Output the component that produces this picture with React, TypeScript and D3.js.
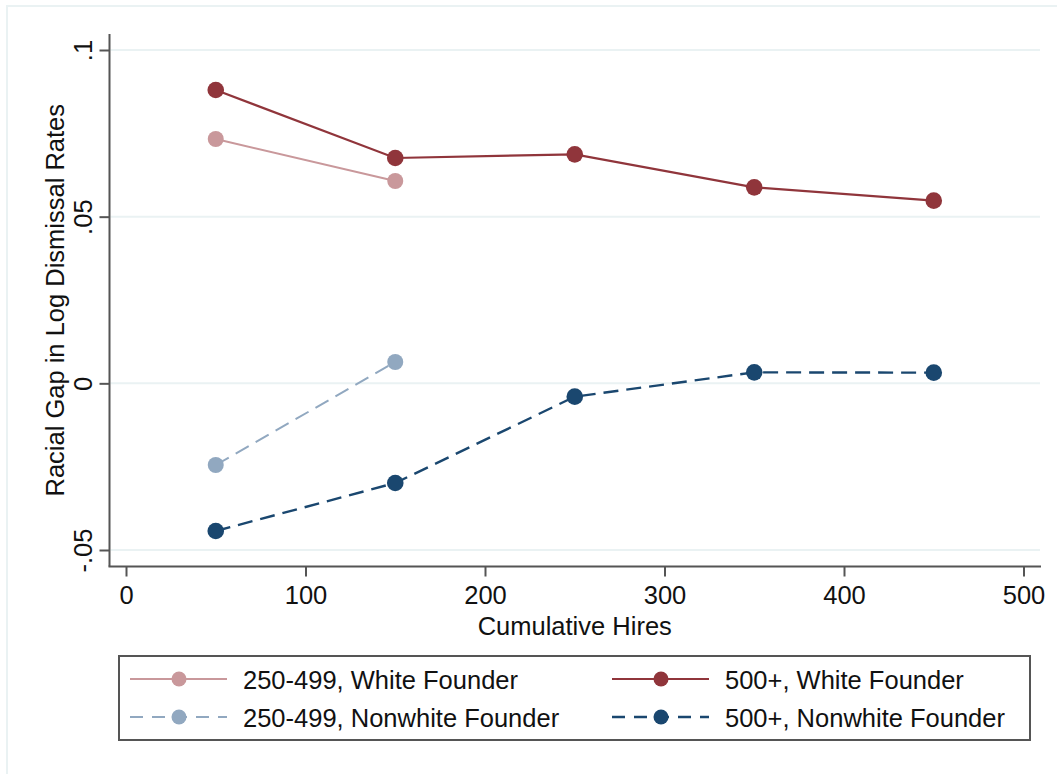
import React, { useEffect, useRef } from 'react';
import * as d3 from 'd3';

const hires = [50, 150, 250, 350, 450];
const white500 = [0.0880, 0.0676, 0.0687, 0.0588, 0.0548];
const white250 = [0.0733, 0.0607];
const nonwhite250 = [-0.0245, 0.0064];
const nonwhite500 = [-0.0443, -0.0299, -0.0040, 0.0033, 0.0032];

const xTicks = [0, 100, 200, 300, 400, 500];
const yTicks = [-0.05, 0, 0.05, 0.1];
const yTickLabels = ['-.05', '0', '.05', '.1'];

const seriesList = [
  { name: '250-499, White Founder', values: white250, color: '#c9989b', width: 2, dash: null, r: 8 },
  { name: '500+, White Founder', values: white500, color: '#90353b', width: 2.2, dash: null, r: 8.3 },
  { name: '250-499, Nonwhite Founder', values: nonwhite250, color: '#91a8c0', width: 2, dash: '15 8', r: 8 },
  { name: '500+, Nonwhite Founder', values: nonwhite500, color: '#1a476f', width: 2.4, dash: '15 8', r: 8.3 }
];

const FONT = '"Liberation Sans", Arial, sans-serif';
const FS = '25.5px';

export default function App() {
  const svgRef = useRef<SVGSVGElement>(null);

  useEffect(() => {
    const svg = d3.select(svgRef.current);
    svg.selectAll('*').remove();

    const x = d3.scaleLinear().domain([0, 500]).range([126, 1023.5]);
    const y = d3.scaleLinear().domain([-0.05, 0.1]).range([550, 50]);
    const left = 109.5;
    const right = 1040;
    const top = 34;
    const bottom = 566.5;

    // outer frame
    svg
      .append('rect')
      .attr('x', 7)
      .attr('y', 6)
      .attr('width', 1060)
      .attr('height', 780)
      .attr('fill', '#ffffff')
      .attr('stroke', '#eaf2f3')
      .attr('stroke-width', 2);

    // gridlines
    svg
      .append('g')
      .selectAll('line')
      .data(yTicks)
      .enter()
      .append('line')
      .attr('x1', left + 1)
      .attr('x2', right)
      .attr('y1', d => y(d))
      .attr('y2', d => y(d))
      .attr('stroke', '#eaf2f3')
      .attr('stroke-width', 2);

    // y axis
    const yAxis = svg
      .append('g')
      .attr('transform', `translate(${left},0)`)
      .call(
        d3
          .axisLeft(y)
          .tickValues(yTicks)
          .tickSize(10)
          .tickPadding(0)
          .tickFormat((d, i) => yTickLabels[i])
      );
    yAxis.select('.domain').attr('d', `M0,${top}V${bottom}`);
    yAxis.selectAll('.domain, .tick line').attr('stroke', '#555555').attr('stroke-width', 2);
    yAxis
      .selectAll('.tick text')
      .attr('x', 0)
      .attr('dy', null)
      .attr('transform', `translate(${92 - left},0) rotate(-90)`)
      .attr('text-anchor', 'middle')
      .attr('fill', '#111111')
      .style('font-family', FONT)
      .style('font-size', FS);

    // x axis
    const xAxis = svg
      .append('g')
      .attr('transform', `translate(0,${bottom})`)
      .call(d3.axisBottom(x).tickValues(xTicks).tickSize(10).tickFormat(d3.format('d')));
    xAxis.select('.domain').attr('d', `M${left - 1},0H${right + 1}`);
    xAxis.selectAll('.domain, .tick line').attr('stroke', '#555555').attr('stroke-width', 2);
    xAxis
      .selectAll('.tick text')
      .attr('y', 604 - bottom)
      .attr('dy', null)
      .attr('fill', '#111111')
      .style('font-family', FONT)
      .style('font-size', FS);

    // axis titles
    svg
      .append('text')
      .attr('x', (left + right) / 2)
      .attr('y', 635)
      .attr('text-anchor', 'middle')
      .attr('fill', '#111111')
      .style('font-family', FONT)
      .style('font-size', FS)
      .text('Cumulative Hires');

    svg
      .append('text')
      .attr('transform', `translate(64,${(top + bottom) / 2}) rotate(-90)`)
      .attr('text-anchor', 'middle')
      .attr('fill', '#111111')
      .style('font-family', FONT)
      .style('font-size', FS)
      .text('Racial Gap in Log Dismissal Rates');

    // series
    const line = d3
      .line<number>()
      .x((d, i) => x(hires[i]))
      .y(d => y(d));

    seriesList.forEach(s => {
      const g = svg.append('g');
      g.append('path')
        .attr('d', line(s.values))
        .attr('fill', 'none')
        .attr('stroke', s.color)
        .attr('stroke-width', s.width)
        .attr('stroke-dasharray', s.dash);
      g.selectAll('circle')
        .data(s.values)
        .enter()
        .append('circle')
        .attr('cx', (d, i) => x(hires[i]))
        .attr('cy', d => y(d))
        .attr('r', s.r)
        .attr('fill', s.color);
    });

    // legend
    const legend = svg.append('g');
    legend
      .append('rect')
      .attr('x', 119)
      .attr('y', 656)
      .attr('width', 911)
      .attr('height', 84)
      .attr('fill', '#ffffff')
      .attr('stroke', '#555555')
      .attr('stroke-width', 2);

    const cols = [130, 612];
    const rows = [679, 717];
    seriesList.forEach((s, i) => {
      const cx = cols[i % 2];
      const cy = rows[Math.floor(i / 2)];
      legend
        .append('line')
        .attr('x1', cx)
        .attr('x2', cx + 97)
        .attr('y1', cy)
        .attr('y2', cy)
        .attr('stroke', s.color)
        .attr('stroke-width', s.width)
        .attr('stroke-dasharray', s.dash ? '13 9' : null);
      legend
        .append('circle')
        .attr('cx', cx + 49)
        .attr('cy', cy)
        .attr('r', 7.5)
        .attr('fill', s.color);
      legend
        .append('text')
        .attr('x', cx + 113)
        .attr('y', cy + 10)
        .attr('fill', '#111111')
        .style('font-family', FONT)
        .style('font-size', FS)
        .text(s.name);
    });
  }, []);

  return (
    <svg
      ref={svgRef}
      width={1057}
      height={774}
      style={{ position: 'absolute', left: 0, top: 0, background: '#ffffff' }}
    />
  );
}
